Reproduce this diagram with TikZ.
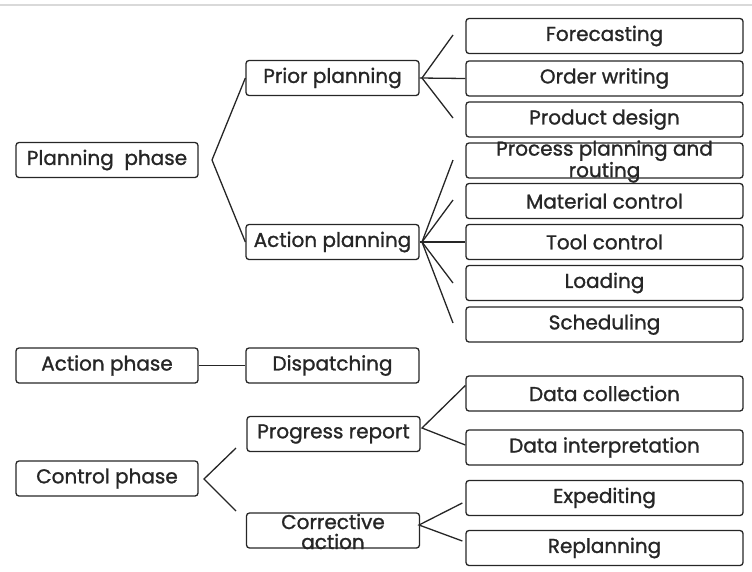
\documentclass[tikz,border=0pt]{standalone}
\usepackage{fontspec}
\setmainfont{Poppins}[UprightFeatures={FakeBold=1.2}]

\begin{document}
\begin{tikzpicture}[x=1pt, y=-1pt,
  box/.style={draw=black!85, line width=1.3pt, rounded corners=3pt,
    minimum height=35pt, inner sep=0pt, text=black!85,
    font=\fontsize{20}{18}\selectfont},
  leftbox/.style={box, minimum width=182pt},
  midbox/.style={box, minimum width=173pt},
  rightbox/.style={box, minimum width=277pt},
  twoline/.style={align=center, inner sep=0pt, text=black!85,
    font=\fontsize{20}{18.5}\selectfont},
  link/.style={draw=black!85, line width=1.3pt}]

\useasboundingbox (0,0) rectangle (752,571);
\draw[black!15, line width=1.5pt] (0,5) -- (752,5);

% first column
\node[leftbox] (plan) at (107,160) {Planning\ \ phase};
\node[leftbox] (actph) at (107,365.5) {Action phase};
\node[leftbox] (ctrl) at (107,478.5) {Control phase};

% second column
\node[midbox] (prior) at (332.5,78) {Prior planning};
\node[midbox] (actpl) at (332.5,242) {Action planning};
\node[midbox] (disp) at (332.5,365.5) {Dispatching};
\node[midbox] (prog) at (333.5,434) {Progress report};
\node[midbox] (corr) at (333,530.5) {};
\node[twoline, font=\fontsize{20}{20}\selectfont] (corrt) at ([yshift=-1pt]corr.center) {Corrective\\action};

% third column
\node[rightbox] (fore) at (604.5,36) {Forecasting};
\node[rightbox] (order) at (604.5,78.5) {Order writing};
\node[rightbox] (prod) at (604.5,119.5) {Product design};
\node[rightbox] (proc) at (604.5,160.5) {};
\node[twoline] (proct) at ([yshift=-1pt]proc.center) {Process planning and\\routing};
\node[rightbox] (mat) at (604.5,201) {Material control};
\node[rightbox] (tool) at (604.5,242) {Tool control};
\node[rightbox] (load) at (604.5,283) {Loading};
\node[rightbox] (sched) at (604.5,324.5) {Scheduling};
\node[rightbox] (dcol) at (604.5,393.5) {Data collection};
\node[rightbox] (dint) at (604.5,447.5) {Data interpretation};
\node[rightbox] (exped) at (604.5,498) {Expediting};
\node[rightbox] (repl) at (604.5,548) {Replanning};

% branching points and free line ends
\coordinate (planfork) at (212,160);
\coordinate (ctrlfork) at (204,479);
\coordinate (ctrlup) at (236,448);
\coordinate (ctrldown) at (236,511);
\coordinate (priorfork) at (422,78);
\coordinate (priorup) at (453,35);
\coordinate (priordown) at (453,118);
\coordinate (actfork) at (422,242);
\coordinate (act1) at (453,160);
\coordinate (act2) at (453,200);
\coordinate (act4) at (453,283);
\coordinate (act5) at (453,323);
\coordinate (progfork) at (422,428);
\coordinate (corrfork) at (419,525);

% connectors
\draw[link] (prior.west) -- (planfork) -- (actpl.west);
\draw[link] (actph.east) -- (disp.west);
\draw[link] (ctrlup) -- (ctrlfork) -- (ctrldown);

\draw[link] (priorup) -- (priorfork) -- (priordown);
\draw[link] (prior.east) -- (order.west);

\draw[link] (act1) -- (actfork);
\draw[link] (act2) -- (actfork);
\draw[link] (actpl.east) -- (tool.west);
\draw[link] (act4) -- (actfork);
\draw[link] (act5) -- (actfork);

\draw[link] ([yshift=8pt]dcol.west) -- (progfork) -- ([yshift=2.5pt]dint.west);
\draw[link] ([shift={(-3pt,-5pt)}]exped.west) -- (corrfork) -- ([shift={(-3pt,7pt)}]repl.west);
\end{tikzpicture}
\end{document}
